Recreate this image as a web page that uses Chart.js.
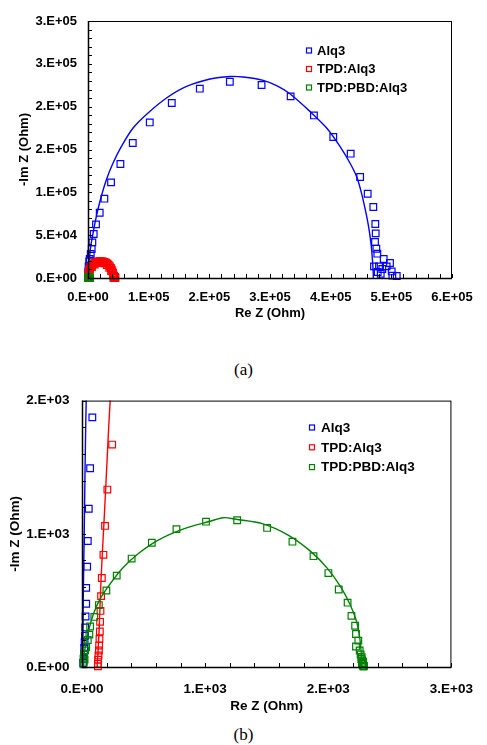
<!DOCTYPE html>
<html>
<head>
<meta charset="utf-8">
<script src="https://cdn.jsdelivr.net/npm/chart.js@4.4.1/dist/chart.umd.min.js"></script>
<style>
  body { margin: 0; background: #fff; width: 487px; height: 745px; position: relative; overflow: hidden; }
  .panel { position: absolute; left: 0; width: 487px; }
  .caption { position: absolute; left: 0; width: 487px; text-align: center; line-height: 20px;
             font-family: 'Liberation Serif', 'Times New Roman', serif; font-size: 17px; color: #000; }
</style>
</head>
<body>
<div class="panel" style="top:0;height:330px"><canvas id="chartA" width="487" height="330"></canvas></div>
<div class="caption" style="top:360px">(a)</div>
<div class="panel" style="top:380px;height:340px"><canvas id="chartB" width="487" height="340"></canvas></div>
<div class="caption" style="top:725px">(b)</div>

<script>
// Impedance data, [Re Z, -Im Z] in Ohm
const alq3Data = [
  [10, 30], [13, 62], [16, 99], [18, 144], [21, 186], [24, 235], [26, 297], [29, 379],
  [34, 475], [34, 594], [42, 753], [47, 946], [55, 1188], [66, 1492], [84, 1874],
  [300, 4500], [500, 7700], [1000, 13500], [2000, 19400], [2800, 22200], [4500, 28000],
  [6100, 33900], [7200, 41600], [9400, 51400], [13200, 62600], [19300, 76200], [27000, 92600],
  [38000, 111600], [53400, 133100], [73800, 157600], [101800, 181600], [138100, 204300],
  [184300, 221000], [233800, 229100], [286100, 225300], [334000, 212000], [372400, 189800],
  [404300, 164600], [433000, 145100], [448600, 117900], [461000, 98400], [470300, 82900],
  [473600, 63000], [474200, 52100], [473100, 42000], [475300, 34200], [476900, 28400],
  [487400, 22200], [471400, 13600], [479700, 13600], [497800, 17500], [492300, 13600],
  [485100, 10500], [477500, 7000], [482500, 5000], [500600, 7700], [501700, 2700], [508900, 2300]
];
const alq3Fit = [
  [5, 0], [10, 500], [18, 1000], [25, 1500], [34, 2000], [50, 2600], [100, 3800], [250, 6000],
  [600, 9500], [1100, 13500], [1700, 17500], [2900, 27000], [4500, 36900],
  [8300, 52500], [13800, 71900], [20400, 91400], [30300, 114700], [41300, 134200],
  [55100, 153600], [74300, 175100], [99000, 192600], [129400, 210100], [162400, 223600],
  [201000, 232300], [233800, 235300], [255800, 234600], [288800, 230700], [310900, 224500],
  [332800, 215100], [365800, 194500], [393400, 175100], [415300, 153600], [431800, 134200],
  [443000, 117900], [450500, 100000], [457000, 80000], [462500, 60000], [466500, 40000],
  [469000, 20000], [470200, 5000], [470400, 0]
];

const tpdData = [
  [129, 5], [129, 25], [131, 55], [134, 87], [137, 124], [139, 161], [142, 211], [145, 267],
  [147, 339], [150, 421], [155, 532], [161, 668], [174, 842], [187, 1059], [206, 1332], [245, 1670],
  [500, 3500], [900, 5500], [1500, 7500], [2300, 9500], [3300, 11300], [4500, 13000],
  [6000, 14600], [7800, 16000], [9800, 17300], [12000, 18300], [14500, 19000], [17000, 19400],
  [19500, 19600], [22000, 19600], [24500, 19400], [27000, 18900], [29500, 18100], [32000, 16900],
  [34000, 15500], [36000, 13800], [37800, 11800], [39200, 9800], [40300, 7800], [41200, 5800],
  [41800, 4000], [42500, 2500], [43200, 1400], [44000, 700], [44800, 300], [45300, 100],
  [41500, 3000], [43000, 2000], [44500, 1200], [42800, 500], [41800, 200], [43600, 100],
  [1200, 5200], [3000, 9000], [6500, 12800], [11000, 15800], [16000, 17500], [21000, 17900],
  [26000, 17200], [31000, 15200], [35000, 12000], [38000, 8000]
];
const tpdFit = [
  [123, 0], [139, 275], [155, 668], [177, 1059], [192, 1332], [229, 2000], [300, 2900],
  [450, 3900], [800, 5000], [2000, 9000], [4000, 12500], [7000, 15500], [11000, 17900],
  [16000, 19300], [21500, 19700], [27000, 19100], [32000, 17200], [36000, 14200], [39000, 10500],
  [41000, 6500], [42300, 3000], [42800, 0]
];

const pbdData = [
  [12, 20], [14, 40], [16, 70], [18, 100], [21, 55], [25, 125], [34, 148], [47, 203], [60, 243],
  [66, 304], [100, 376], [137, 465], [198, 574], [282, 686], [403, 814], [567, 933], [767, 1035],
  [1007, 1091], [1260, 1102], [1503, 1044], [1709, 941], [1880, 832], [2001, 705], [2085, 582],
  [2157, 483], [2188, 384], [2218, 310], [2225, 248], [2244, 198], [2225, 154], [2255, 124],
  [2263, 94], [2271, 74], [2275, 50], [2273, 30], [2281, 10], [2286, 3], [2278, 20], [2283, 40],
  [2268, 60], [2290, 8]
];
const pbdFit = [
  [5, 0], [26, 148], [53, 272], [92, 396], [145, 508], [224, 619], [329, 742], [461, 854],
  [619, 953], [831, 1039], [1041, 1094], [1147, 1121], [1252, 1109], [1464, 1076], [1674, 990],
  [1859, 866], [1991, 742], [2097, 607], [2176, 471], [2228, 347], [2255, 223], [2268, 99], [2273, 0]
];

const seriesNames = ['Alq3', 'TPD:Alq3', 'TPD:PBD:Alq3'];
const seriesColors = ['#0000ff', '#ff0000', '#008000'];

const FONT = "'Liberation Sans', Arial, sans-serif";

// 3.E+05 style labels
function sci(v) {
  if (v === 0) return '0.E+00';
  let e = Math.floor(Math.log10(Math.abs(v)) + 1e-9);
  let m = Math.round(v / Math.pow(10, e));
  if (m >= 10) { m = m / 10; e++; }
  return m + '.E' + (e < 0 ? '-' : '+') + String(Math.abs(e)).padStart(2, '0');
}

const toXY = (arr) => arr.map(p => ({ x: p[0], y: p[1] }));

function buildDatasets() {
  const pts = [alq3Data, tpdData, pbdData];
  const fits = [alq3Fit, tpdFit, pbdFit];
  const sets = [];
  for (let i = 0; i < 3; i++) {
    sets.push({
      label: seriesNames[i],
      data: toXY(pts[i]),
      showLine: false,
      pointStyle: 'rect',
      pointRadius: 4.7,
      pointBorderWidth: 1.2,
      pointBorderColor: seriesColors[i],
      pointBackgroundColor: 'rgba(0,0,0,0)',
      clip: 5,
      order: 2 * (2 - i) + 1
    });
    sets.push({
      label: '',
      data: toXY(fits[i]),
      showLine: true,
      tension: 0.3,
      borderColor: seriesColors[i],
      borderWidth: 1.4,
      pointRadius: 0,
      order: 2 * (2 - i) + 2
    });
  }
  return sets;
}

// box, inward tick marks and the legend
const frame = {
  id: 'frame',
  afterDraw(chart, args, opts) {
    const { ctx, chartArea: a, scales } = chart;
    ctx.save();
    ctx.strokeStyle = '#000';
    ctx.lineWidth = 1;
    ctx.strokeRect(a.left + 0.5, a.top + 0.5, a.right - a.left - 1, a.bottom - a.top);
    ctx.lineWidth = 1.5;
    ctx.beginPath();
    ctx.moveTo(a.left + 0.5, a.top);
    ctx.lineTo(a.left + 0.5, a.bottom + 0.5);
    ctx.lineTo(a.right, a.bottom + 0.5);
    ctx.stroke();

    ctx.lineWidth = 1;
    ctx.beginPath();
    scales.x.ticks.forEach(t => {
      const px = Math.round(scales.x.getPixelForValue(t.value)) + 0.5;
      ctx.moveTo(px, a.bottom);
      ctx.lineTo(px, a.bottom - 4);
    });
    scales.y.ticks.forEach(t => {
      const py = Math.round(scales.y.getPixelForValue(t.value)) + 0.5;
      ctx.moveTo(a.left, py);
      ctx.lineTo(a.left + 4, py);
    });
    ctx.stroke();

    // legend
    ctx.font = 'bold ' + opts.size + 'px ' + FONT;
    ctx.textBaseline = 'middle';
    ctx.fillStyle = '#000';
    ctx.lineWidth = 1.2;
    chart.data.datasets.filter(d => d.label).forEach((d, i) => {
      const y = opts.y + i * opts.gap;
      ctx.strokeStyle = d.pointBorderColor;
      ctx.strokeRect(opts.x - 2.5, y - 2.5, 5, 5);
      ctx.fillText(d.label, opts.textX, y + 0.5);
    });
    ctx.restore();
  }
};

function makeConfig(o) {
  const font = { family: FONT, weight: 'bold', size: o.size };
  return {
    type: 'scatter',
    data: { datasets: buildDatasets() },
    options: {
      responsive: false,
      animation: false,
      layout: { padding: { top: o.top, right: o.right, left: 0, bottom: 0 } },
      plugins: {
        legend: { display: false },
        tooltip: { enabled: false },
        frame: o.legend
      },
      scales: {
        x: {
          type: 'linear', min: 0, max: o.xMax,
          grid: { display: false, drawTicks: false },
          border: { display: false },
          ticks: {
            stepSize: o.xStep, autoSkip: false, maxRotation: 0, maxTicksLimit: 1000,
            padding: o.xPad, color: '#000', font: font,
            callback: v => (v % o.xMajor === 0 ? sci(v) : '')
          },
          title: { display: true, text: 'Re Z (Ohm)', color: '#000', font: font, padding: { top: 0, bottom: o.xTitlePad } },
          afterFit: s => { s.height = o.xHeight; }
        },
        y: {
          type: 'linear', min: 0, max: o.yMax,
          grid: { display: false, drawTicks: false },
          border: { display: false },
          ticks: {
            stepSize: o.yStep, autoSkip: false, maxTicksLimit: 1000,
            padding: o.yPad, color: '#000', font: font,
            callback: v => (v % o.yMajor === 0 ? sci(v) : '')
          },
          title: { display: true, text: '-Im Z (Ohm)', color: '#000', font: font, padding: { top: o.yTitlePad, bottom: 0 } },
          afterFit: s => { s.width = o.yWidth; }
        }
      }
    },
    plugins: [frame]
  };
}

// (a) full range
new Chart(document.getElementById('chartA'), makeConfig({
  size: 13, top: 21, right: 35, yWidth: 88, xHeight: 52,
  xMax: 600000, xStep: 20000, xMajor: 100000,
  yMax: 300000, yStep: 10000, yMajor: 50000,
  xPad: 12, xTitlePad: 9, yPad: 11, yTitlePad: 17,
  legend: { x: 309, textX: 317, y: 50.5, gap: 18.5, size: 13 }
}));

// (b) close-up near the origin
new Chart(document.getElementById('chartB'), makeConfig({
  size: 13.5, top: 17, right: 26, yWidth: 82, xHeight: 53,
  xMax: 3000, xStep: 200, xMajor: 1000,
  yMax: 2000, yStep: 200, yMajor: 1000,
  xPad: 14, xTitlePad: 6, yPad: 12.5, yTitlePad: 7,
  legend: { x: 312, textX: 321, y: 47.5, gap: 19.8, size: 13.5 }
}));
</script>
</body>
</html>
